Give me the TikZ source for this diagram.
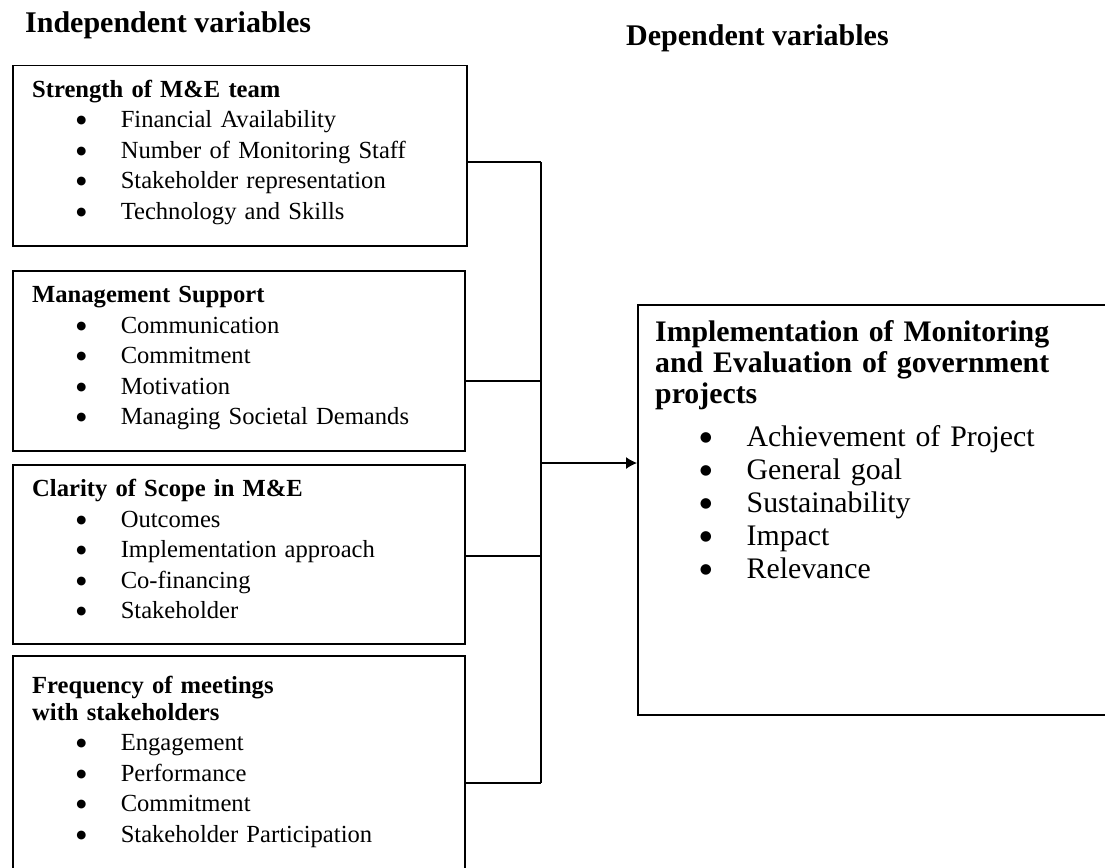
\documentclass[tikz,border=0pt]{standalone}
\usepackage{fontspec}
\setmainfont{Liberation Serif}
\newfontfamily\dotfont{DejaVu Sans}
\usetikzlibrary{arrows.meta}

\newcommand{\bigdot}[2]{\makebox[0pt]{\raisebox{#2}{\dotfont\fontsize{#1}{#1}\selectfont ●}}}
\newcommand{\litem}[1]{\\\mdseries\makebox[3.6em][l]{\hspace*{2em}\bigdot{11.5}{0.16em}}#1}
\newcommand{\ritem}[1]{\\\mdseries\makebox[3.07em][l]{\hspace*{1.7em}\bigdot{13.8}{0.16em}}#1}

\begin{document}
\begin{tikzpicture}[x=1pt, y=-1pt,
    varbox/.style={draw=black, line width=1.5pt, rectangle, anchor=north west, inner sep=0pt},
    vartext/.style={anchor=north west, inner sep=0pt, text width=420pt, align=left,
      font=\fontsize{24.6}{30.5}\selectfont},
    heading/.style={anchor=base west, inner sep=0pt, font=\fontsize{30}{33}\selectfont\bfseries},
    wire/.style={black, line width=1.2pt}]
  \useasboundingbox (0,0) rectangle (1105,867);
  \clip (0,0) rectangle (1105,867);

  \node[heading] (indep) at (25,33) {Independent variables};
  \node[heading] (dep) at (626,46) {Dependent variables};

  \node[varbox, minimum width=454pt, minimum height=180pt] (strength) at (12,65) {};
  \node[varbox, minimum width=452pt, minimum height=180pt] (mgmt) at (12,270) {};
  \node[varbox, minimum width=452pt, minimum height=179pt] (scope) at (12,464) {};
  \node[varbox, minimum width=452pt, minimum height=250pt] (freq) at (12,655) {};
  \node[varbox, minimum width=520pt, minimum height=410pt] (impl) at (637,304) {};

  \node[vartext] (strength-txt) at (32,75.6) {\strut\textbf{Strength of M\&E team}%
    \litem{Financial Availability}\litem{Number of Monitoring Staff}%
    \litem{Stakeholder representation}\litem{Technology and Skills}};
  \node[vartext] (mgmt-txt) at (32,281) {\strut\textbf{Management Support}%
    \litem{Communication}\litem{Commitment}%
    \litem{Motivation}\litem{Managing Societal Demands}};
  \node[vartext] (scope-txt) at (32,475) {\strut\textbf{Clarity of Scope in M\&E}%
    \litem{Outcomes}\litem{Implementation approach}%
    \litem{Co-financing}\litem{Stakeholder}};
  \node[vartext] (freq-txt) at (32,672) {\strut\bfseries Frequency of meetings\\[-4pt]with stakeholders%
    \litem{Engagement}\litem{Performance}%
    \litem{Commitment}\litem{Stakeholder Participation}};
  \node[vartext, text width=445pt, font=\fontsize{29.8}{33}\selectfont] (impl-txt) at (655,318)
    {\strut\bfseries Implementation of Monitoring\\[-2pt]and Evaluation of government\\[-2pt]projects\\[10pt]%
    \mdseries\makebox[3.07em][l]{\hspace*{1.7em}\bigdot{13.8}{0.16em}}Achievement of Project%
    \ritem{General goal}\ritem{Sustainability}\ritem{Impact}\ritem{Relevance}};

  \coordinate (j1) at (541,162);
  \coordinate (j2) at (541,381);
  \coordinate (j3) at (541,556);
  \coordinate (j4) at (541,783);
  \coordinate (jout) at (541,463);

  \draw[wire] (strength.east |- j1) -- (j1);
  \draw[wire] (mgmt.east |- j2) -- (j2);
  \draw[wire] (scope.east |- j3) -- (j3);
  \draw[wire] (freq.east |- j4) -- (j4);
  \draw[wire] (j1) -- (j4);
  \draw[wire, -{Latex[length=11pt, width=12pt]}] (jout) -- (impl.west |- jout);
\end{tikzpicture}
\end{document}
